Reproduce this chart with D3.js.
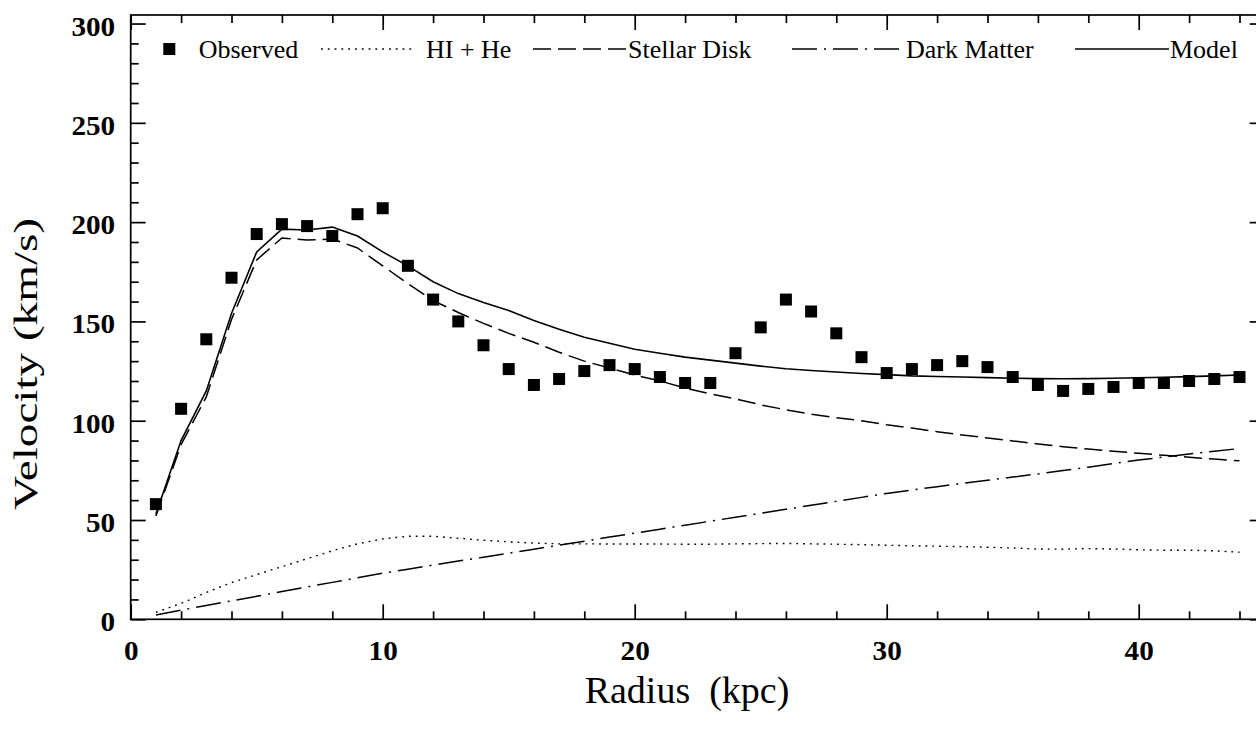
<!DOCTYPE html>
<html>
<head>
<meta charset="utf-8">
<script src="https://cdn.jsdelivr.net/npm/d3@7"></script>
<style>
  html, body { margin: 0; padding: 0; background: #fff; }
  svg { display: block; }
  text { font-family: "Liberation Serif", "Times New Roman", serif; fill: #000; }
</style>
</head>
<body>
<svg id="chart" width="1256" height="732"></svg>
<script>
// Rotation curve: radius (kpc) vs circular velocity (km/s)
const radius = d3.range(1, 45);

const observed = [58, 106, 141, 172, 194, 199, 198, 193, 204, 207,
                  178, 161, 150, 138, 126, 118, 121, 125, 128, 126,
                  122, 119, 119, 134, 147, 161, 155, 144, 132, 124,
                  126, 128, 130, 127, 122, 118, 115, 116, 117, 119,
                  119, 120, 121, 122];

const gas = [3.5, 8, 13.5, 18.5, 22.5, 26.5, 30.5, 34.5, 38, 40.5,
             41.8, 41.8, 40.8, 39.8, 39, 38.4, 38, 38, 37.9, 37.9,
             37.9, 37.8, 37.8, 38, 38.1, 38.2, 38, 37.8, 37.6, 37.3,
             37, 36.8, 36.6, 36.3, 35.9, 35.4, 35.3, 35.6, 35.4, 35,
             34.8, 34.8, 34.5, 33.8];

const stellarDisk = [52, 88, 112, 151, 181, 192, 191, 191.5, 187, 178,
                     169, 160.5, 154.5, 149, 144, 139.5, 134.5, 130, 126.5, 123,
                     120, 116.5, 113.5, 111, 108, 105.5, 103.3, 101.5, 100, 98,
                     96.3, 94.5, 92.8, 91.3, 89.8, 88.3, 86.9, 85.7, 84.6, 83.6,
                     82.6, 81.6, 80.7, 79.8];

const darkMatter = [2.2, 4.6, 7, 9.3, 11.6, 14, 16.3, 18.6, 20.9, 23.2,
                    25.2, 27.3, 29.3, 31.3, 33.3, 35.3, 37.3, 39.3, 41.4, 43.4,
                    45.4, 47.4, 49.4, 51.4, 53.4, 55.4, 57.4, 59.4, 61.4, 63.4,
                    65.1, 66.8, 68.4, 70, 71.6, 73.2, 74.9, 76.6, 78.4, 80.2,
                    81.7, 83.2, 84.6, 86];

const model = [53, 90, 115, 154, 185, 196.5, 196, 197.5, 193, 185,
               178, 170, 164, 159.5, 155.5, 150.5, 146, 142, 139, 136,
               134, 132, 130.5, 129, 127.5, 126.2, 125.3, 124.5, 123.8, 123.2,
               122.6, 122.3, 122, 121.7, 121.4, 121.2, 121.1, 121.2, 121.4, 121.6,
               121.9, 122.2, 122.6, 123];

const xMajorTicks = [0, 10, 20, 30, 40];
const xMinorTicks = [2, 4, 6, 8, 12, 14, 16, 18, 22, 24, 26, 28, 32, 34, 36, 38, 42, 44];
const yMajorTicks = [0, 50, 100, 150, 200, 250, 300];
const yMinorTicks = d3.range(10, 301, 10).filter(v => v % 50 !== 0);

const legendLabels = ["Observed", "HI + He", "Stellar Disk", "Dark Matter", "Model"];

const xTitle = "Radius  (kpc)";
const yTitle = "Velocity (km/s)";

// ---- layout ----
const svg = d3.select("#chart");
const plotLeft = 130.7, plotRight = 1264.7, plotTop = 15, plotBottom = 619.3;

const x = d3.scaleLinear().domain([0, 45]).range([plotLeft, plotRight]);
const y = d3.scaleLinear().domain([0, 304.3]).range([plotBottom, plotTop]);

const frameStroke = 1.7;
const majorLen = 15, minorLen = 8;
const tickFont = 27, tickStretch = 1.08;

// frame
svg.append("rect")
  .attr("x", plotLeft).attr("y", plotTop)
  .attr("width", plotRight - plotLeft).attr("height", plotBottom - plotTop)
  .attr("fill", "none").attr("stroke", "#000").attr("stroke-width", frameStroke);

function styleAxis(g) {
  g.select(".domain").remove();
  g.selectAll(".tick line").attr("stroke", "#000").attr("stroke-width", frameStroke);
}

// bottom axis
svg.append("g").attr("transform", `translate(0,${plotBottom})`)
  .call(d3.axisBottom(x).tickValues(xMinorTicks).tickSize(-minorLen).tickFormat(""))
  .call(styleAxis);
const gx = svg.append("g").attr("transform", `translate(0,${plotBottom})`)
  .call(d3.axisBottom(x).tickValues(xMajorTicks).tickSize(-majorLen).tickFormat(d3.format("d")))
  .call(styleAxis);
gx.selectAll(".tick text")
  .attr("x", null).attr("y", null).attr("dy", null)
  .attr("transform", `translate(0,41) scale(${tickStretch},1)`)
  .attr("font-size", tickFont).attr("font-weight", "bold")
  .style("font-family", '"Liberation Serif", serif');

// top axis (ticks only)
svg.append("g").attr("transform", `translate(0,${plotTop})`)
  .call(d3.axisTop(x).tickValues(xMinorTicks).tickSize(-minorLen).tickFormat(""))
  .call(styleAxis);
svg.append("g").attr("transform", `translate(0,${plotTop})`)
  .call(d3.axisTop(x).tickValues(xMajorTicks).tickSize(-majorLen).tickFormat(""))
  .call(styleAxis);

// left axis
svg.append("g").attr("transform", `translate(${plotLeft},0)`)
  .call(d3.axisLeft(y).tickValues(yMinorTicks).tickSize(-minorLen).tickFormat(""))
  .call(styleAxis);
const gy = svg.append("g").attr("transform", `translate(${plotLeft},0)`)
  .call(d3.axisLeft(y).tickValues(yMajorTicks).tickSize(-majorLen).tickFormat(d3.format("d")))
  .call(styleAxis);
gy.selectAll(".tick text")
  .attr("x", null).attr("y", null).attr("dy", null)
  .attr("transform", `translate(-15.5,11.5) scale(${tickStretch},1)`)
  .attr("font-size", tickFont).attr("font-weight", "bold")
  .style("font-family", '"Liberation Serif", serif');

// right axis (ticks only)
svg.append("g").attr("transform", `translate(${plotRight},0)`)
  .call(d3.axisRight(y).tickValues(yMinorTicks).tickSize(-minorLen).tickFormat(""))
  .call(styleAxis);
svg.append("g").attr("transform", `translate(${plotRight},0)`)
  .call(d3.axisRight(y).tickValues(yMajorTicks).tickSize(-majorLen).tickFormat(""))
  .call(styleAxis);

// axis titles
svg.append("text")
  .attr("x", 687).attr("y", 703)
  .attr("text-anchor", "middle")
  .attr("font-size", 38)
  .style("white-space", "pre")
  .text(xTitle);

svg.append("text")
  .attr("transform", "translate(37,364) rotate(-90) scale(1.43,1)")
  .attr("text-anchor", "middle")
  .attr("font-size", 33)
  .text(yTitle);

// ---- curves ----
const lineStyles = {
  gas:   { dash: "1.8,5",      width: 1.4 },
  disk:  { dash: "18,7",       width: 1.5 },
  dark:  { dash: "25,7,2,7",   width: 1.5 },
  model: { dash: null,         width: 1.6 }
};

const curves = [
  { values: gas, style: lineStyles.gas },
  { values: stellarDisk, style: lineStyles.disk },
  { values: darkMatter, style: lineStyles.dark },
  { values: model, style: lineStyles.model }
];

const line = d3.line()
  .x(d => x(d[0]))
  .y(d => y(d[1]))
  .curve(d3.curveLinear);

svg.append("g").selectAll("path")
  .data(curves)
  .join("path")
  .attr("d", c => line(radius.map((r, i) => [r, c.values[i]])))
  .attr("fill", "none")
  .attr("stroke", "#000")
  .attr("stroke-width", c => c.style.width)
  .attr("stroke-dasharray", c => c.style.dash);

// observed points
const markerSize = 12;
svg.append("g").selectAll("rect")
  .data(radius.map((r, i) => [r, observed[i]]))
  .join("rect")
  .attr("x", d => x(d[0]) - markerSize / 2)
  .attr("y", d => y(d[1]) - markerSize / 2)
  .attr("width", markerSize)
  .attr("height", markerSize)
  .attr("fill", "#000");

// ---- legend ----
const legendY = 49, legendBase = 57.5, legendFont = 26;
const lg = svg.append("g");

lg.append("rect")
  .attr("x", 169.3 - markerSize / 2).attr("y", legendY - markerSize / 2)
  .attr("width", markerSize).attr("height", markerSize).attr("fill", "#000");
lg.append("text").attr("x", 198.7).attr("y", legendBase)
  .attr("font-size", legendFont).text(legendLabels[0]);

const legendLines = [
  { x0: 321, x1: 414, tx: 426, style: lineStyles.gas, label: legendLabels[1] },
  { x0: 533, x1: 627, tx: 628, style: lineStyles.disk, label: legendLabels[2] },
  { x0: 792, x1: 900, tx: 906, style: lineStyles.dark, label: legendLabels[3] },
  { x0: 1075, x1: 1169, tx: 1170, style: lineStyles.model, label: legendLabels[4] }
];

legendLines.forEach(item => {
  lg.append("line")
    .attr("x1", item.x0).attr("x2", item.x1)
    .attr("y1", legendY).attr("y2", legendY)
    .attr("stroke", "#000")
    .attr("stroke-width", item.style.width)
    .attr("stroke-dasharray", item.style.dash);
  lg.append("text").attr("x", item.tx).attr("y", legendBase)
    .attr("font-size", legendFont).text(item.label);
});
</script>
</body>
</html>
